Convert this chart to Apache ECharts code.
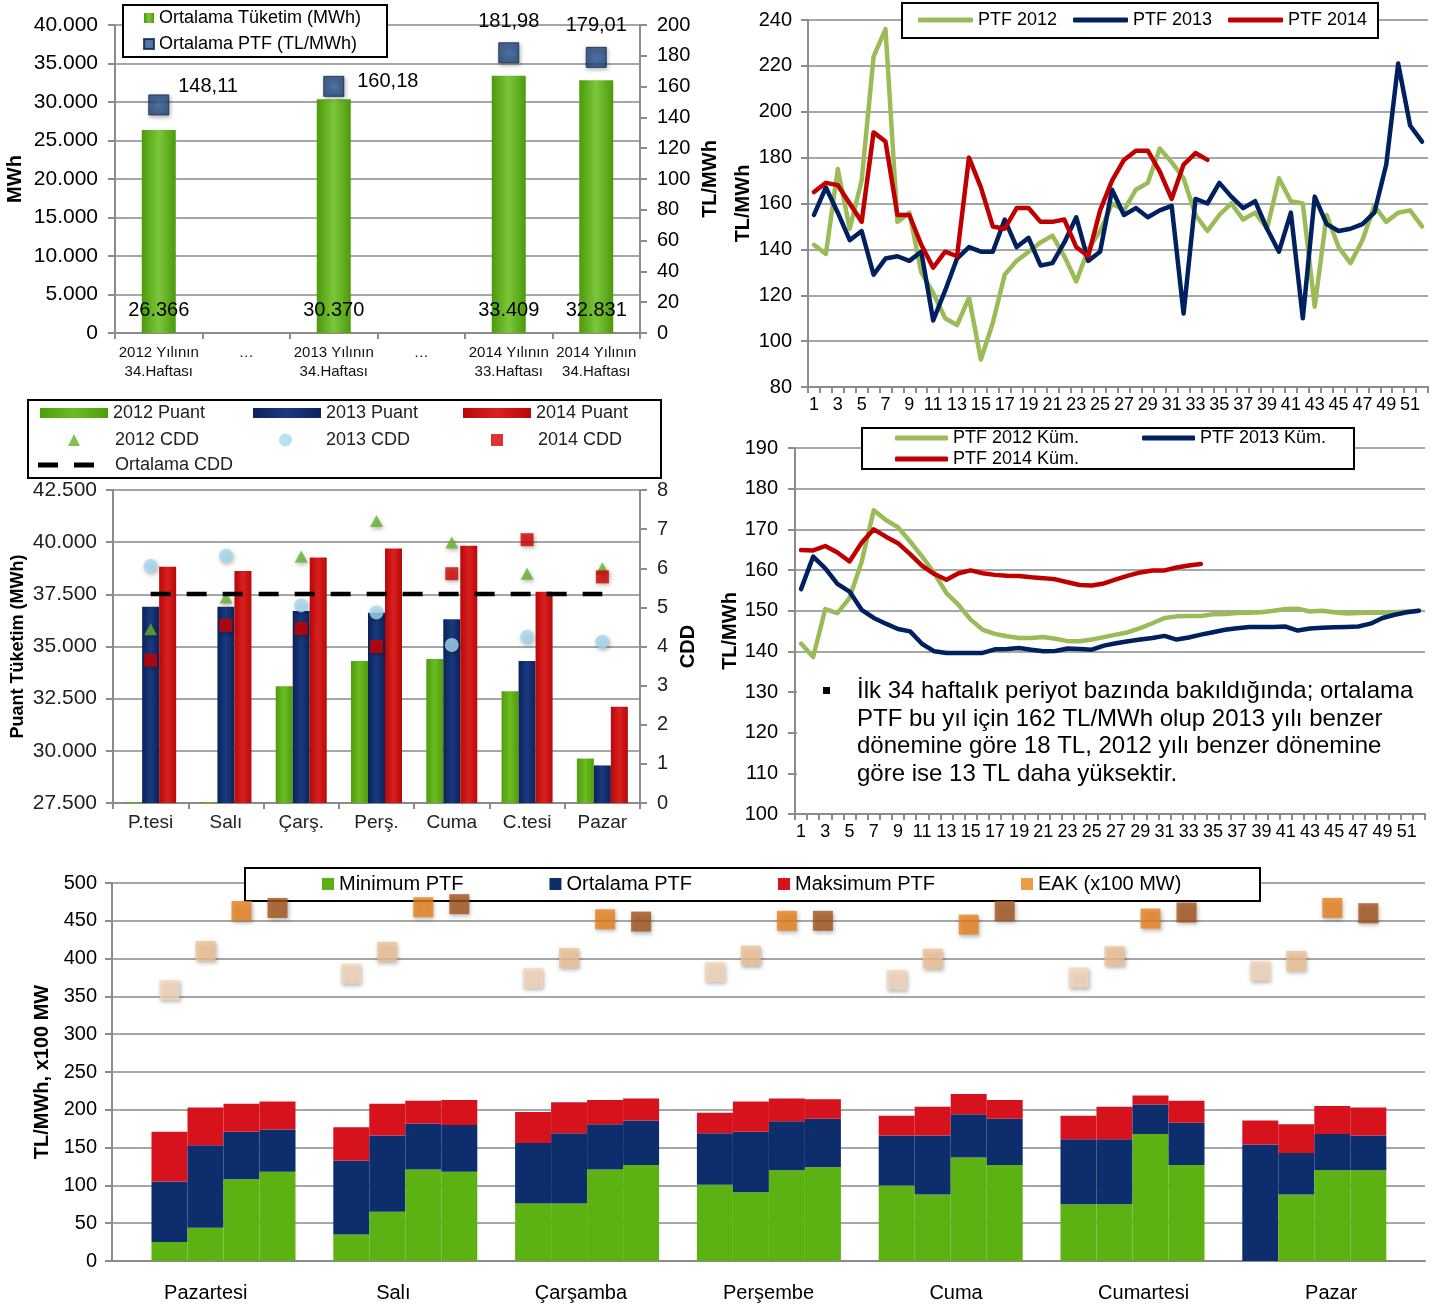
<!DOCTYPE html>
<html>
<head>
<meta charset="utf-8">
<script src="https://cdn.jsdelivr.net/npm/echarts@6/dist/echarts.min.js"></script>
<style>
html,body{margin:0;padding:0;background:#ffffff;}
#chart{width:1436px;height:1308px;}
</style>
</head>
<body>
<div id="chart"></div>
<script>
// ---------------- Panel 1: weekly averages ----------------
const p1Categories = ['2012 Yılının\n34.Haftası', '…', '2013 Yılının\n34.Haftası', '…', '2014 Yılının\n33.Haftası', '2014 Yılının\n34.Haftası'];
const p1Consumption = [26366, null, 30370, null, 33409, 32831];
const p1Ptf = [148.11, null, 160.18, null, 181.98, 179.01];

// ---------------- Panels 2 & 4: weeks ----------------
const weeks = ['1','2','3','4','5','6','7','8','9','10','11','12','13','14','15','16','17','18','19','20','21','22','23','24','25','26','27','28','29','30','31','32','33','34','35','36','37','38','39','40','41','42','43','44','45','46','47','48','49','50','51','52'];
const ptf2012 = [142,138,175,149,170,224,236,152,156,130,121,110,107,119,92,108,129,135,139,143,146,137,126,140,148,160,157,166,169,184,178,171,155,148,155,160,153,156,149,171,161,160,115,155,141,134,144,159,152,156,157,150];
const ptf2013 = [155,167,156,144,148,129,136,137,135,139,109,122,136,141,139,139,153,141,145,133,134,143,154,135,139,166,155,158,154,157,159,112,162,160,169,163,158,161,149,139,156,110,163,151,148,149,151,156,177,221,194,187];
const ptf2014 = [165,169,168,160,152,191,187,155,155,142,132,139,137,180,167,150,149,158,158,152,152,153,141,137,157,170,179,183,183,174,162,177,182,179];

const kum2012 = [141.9,138.6,150.4,149.4,153.1,162.0,174.7,172.3,170.5,167.0,163.3,159.2,154.3,151.4,147.8,145.3,144.3,143.7,143.3,143.3,143.5,143.1,142.5,142.5,142.9,143.5,144.1,144.7,145.7,146.9,148.2,148.6,148.7,148.7,149.1,149.2,149.4,149.5,149.6,150.0,150.4,150.5,149.8,150.0,149.6,149.3,149.4,149.5,149.5,149.6,149.8,150.0];
const kum2013 = [155.3,163.3,160.4,156.6,154.7,150.2,148.2,146.8,145.5,144.9,141.8,140.0,139.6,139.6,139.6,139.6,140.5,140.6,140.8,140.4,140.0,140.1,140.7,140.6,140.4,141.4,142.0,142.5,142.9,143.3,143.8,142.9,143.4,144.1,144.7,145.3,145.7,146.0,146.0,146.0,146.1,145.1,145.6,145.8,145.9,146.0,146.1,146.8,148.2,149.0,149.6,150.0];
const kum2014 = [164.9,164.8,165.9,164.3,162.1,166.7,170.0,168.2,166.6,163.9,161.0,159.0,157.6,159.2,159.9,159.2,158.8,158.6,158.5,158.2,158.0,157.7,157.0,156.3,156.2,156.7,157.7,158.6,159.4,159.9,159.9,160.6,161.1,161.5];

// ---------------- Panel 3: peak consumption & CDD ----------------
const days3 = ['P.tesi','Salı','Çarş.','Perş.','Cuma','C.tesi','Pazar'];
const puant2012 = [27550, 27550, 33100, 34300, 34400, 32850, 29630];
const puant2013 = [36900, 36900, 36700, 36620, 36300, 34300, 29300];
const puant2014 = [38820, 38620, 39260, 39700, 39830, 37620, 32110];
const cdd2012 = [4.44, 5.25, 6.30, 7.21, 6.66, 5.86, 6.00];
const cdd2013 = [6.06, 6.32, 5.05, 4.87, 4.04, 4.25, 4.12];
const cdd2014 = [3.65, 4.54, 4.46, 4.00, 5.86, 6.73, 5.78];
const avgCdd = [5.34, 5.34, 5.34, 5.34, 5.34, 5.34, 5.34];

// ---------------- Panel 5: daily PTF min/avg/max and EAK ----------------
const days5 = ['Pazartesi','Salı','Çarşamba','Perşembe','Cuma','Cumartesi','Pazar'];
const minPtf1 = [25, 35, 76, 101, 100, 75, 0];
const avgPtf1 = [105, 133, 156, 169, 166, 161, 154];
const maxPtf1 = [171, 177, 197, 196, 192, 192, 186];
const minPtf2 = [44, 65, 76, 91, 88, 75, 88];
const avgPtf2 = [153, 166, 169, 171, 166, 161, 143];
const maxPtf2 = [203, 208, 210, 211, 204, 204, 181];
const minPtf3 = [108, 121, 121, 120, 137, 168, 120];
const avgPtf3 = [171, 182, 181, 185, 194, 207, 168];
const maxPtf3 = [208, 212, 213, 215, 221, 219, 205];
const minPtf4 = [118, 118, 127, 124, 127, 127, 120];
const avgPtf4 = [174, 180, 186, 188, 188, 183, 166];
const maxPtf4 = [211, 213, 215, 214, 213, 212, 203];
const eak1 = [358, 380, 374, 382, 372, 375, 384];
const eak2 = [410, 409, 401, 404, 400, 403, 397];
const eak3 = [463, 468, 452, 450, 445, 453, 467];
const eak4 = [467, 472, 449, 450, 463, 461, 460];

// ---------------- styling ----------------
const FONT = 'Liberation Sans, Arial, sans-serif';
const AXIS = '#8C8C8C';
const GRIDC = '#A6A6A6';
const thousands = v => (v === null || v === undefined) ? '' : String(v).replace(/\B(?=(\d{3})+(?!\d))/g, '.');
const dec2 = v => v.toFixed(2).replace('.', ',');
const hgrad = (a, b) => ({type:'linear', x:0, y:0, x2:1, y2:0, colorStops:[{offset:0,color:a},{offset:0.5,color:b},{offset:1,color:a}]});

const C_GREEN_L = '#9BBB59', C_NAVY_L = '#002060', C_RED_L = '#C00000';
const axisLine = {show:true, lineStyle:{color:AXIS, width:2}};
const tickY = {show:true, length:7, lineStyle:{color:AXIS, width:2}};
const tickX = {show:true, length:6, interval:0, lineStyle:{color:AXIS, width:2}};
const split = {show:true, lineStyle:{color:GRIDC, width:2}};
const nameStyle = {fontSize:20, fontWeight:'bold', color:'#000', fontFamily:FONT};
const shadow = {shadowBlur:4, shadowColor:'rgba(0,0,0,0.35)', shadowOffsetX:1, shadowOffsetY:2};

const BAR5 = 36;
const eakColors = ['#F4D6BC', '#EFC296', '#E8821E', '#A3541B'];
const minSets = [minPtf1, minPtf2, minPtf3, minPtf4];
const avgSets = [avgPtf1, avgPtf2, avgPtf3, avgPtf4];
const maxSets = [maxPtf1, maxPtf2, maxPtf3, maxPtf4];
const eakSets = [eak1, eak2, eak3, eak4];

const ptfLabel = {show:true, fontSize:20, color:'#000', opacity:1, textBorderWidth:0, fontFamily:FONT};
const p1LabelPos = [
  {position:'right', distance:9, offset:[0,-18]},
  {},
  {position:'right', distance:13, offset:[0,-5]},
  {},
  {position:'top', distance:11},
  {position:'top', distance:11}
];

const series = [];
// Panel 1
series.push({type:'bar', name:'Ortalama Tüketim (MWh)', xAxisIndex:0, yAxisIndex:0, data:p1Consumption, barWidth:34,
  itemStyle:{color:hgrad('#4C9A0C', '#7CC63A')},
  label:{show:true, position:'insideBottom', distance:13, formatter:p => thousands(p.value), fontSize:20, color:'#000', fontFamily:FONT}});
series.push({type:'scatter', name:'Ortalama PTF (TL/MWh)', xAxisIndex:0, yAxisIndex:1, symbol:'rect', symbolSize:20,
  data:p1Ptf.map((v, i) => ({value:v, label:Object.assign({}, ptfLabel, p1LabelPos[i])})),
  itemStyle:Object.assign({color:{type:'radial', x:0.5, y:0.5, r:0.7, colorStops:[{offset:0,color:'#2F5F9E'},{offset:1,color:'#173A6A'}]}, borderColor:'#0F2747', borderWidth:1}, shadow),
  label:Object.assign({formatter:p => dec2(p.value)}, ptfLabel)});
// Panel 2
[['PTF 2012', ptf2012, C_GREEN_L], ['PTF 2013', ptf2013, C_NAVY_L], ['PTF 2014', ptf2014, C_RED_L]].forEach(s => {
  series.push({type:'line', name:s[0], xAxisIndex:1, yAxisIndex:2, data:s[1], symbol:'none', itemStyle:{color:s[2]},
    lineStyle:{color:s[2], width:4.5, join:'round', cap:'round'}});
});
// Panel 3 bars
[['2012 Puant', puant2012, '#4E9E0A', '#6CBB24'], ['2013 Puant', puant2013, '#0B225A', '#1A3A80'], ['2014 Puant', puant2014, '#B80808', '#DA2020']].forEach(s => {
  series.push({type:'bar', name:s[0], xAxisIndex:2, yAxisIndex:3, data:s[1], barWidth:17, barGap:'0%', itemStyle:{color:hgrad(s[2], s[3])}});
});
// Panel 3 CDD
series.push({type:'scatter', name:'2012 CDD', xAxisIndex:2, yAxisIndex:4, data:cdd2012, symbol:'triangle', symbolSize:[13,12], itemStyle:Object.assign({color:'#63B22C'}, shadow)});
series.push({type:'scatter', name:'2013 CDD', xAxisIndex:2, yAxisIndex:4, data:cdd2013, symbol:'circle', symbolSize:14, itemStyle:Object.assign({color:'#A3D9F0'}, shadow)});
series.push({type:'scatter', name:'2014 CDD', xAxisIndex:2, yAxisIndex:4, data:cdd2014, symbol:'rect', symbolSize:13, itemStyle:Object.assign({color:'#D00000'}, shadow)});
series.push({type:'line', name:'Ortalama CDD', xAxisIndex:2, yAxisIndex:4, data:avgCdd, symbol:'none', itemStyle:{color:'#000'},
  lineStyle:{color:'#000', width:4.5, type:[20,16]}, z:4});
// Panel 4
[['PTF 2012 Küm.', kum2012, C_GREEN_L], ['PTF 2013 Küm.', kum2013, C_NAVY_L], ['PTF 2014 Küm.', kum2014, C_RED_L]].forEach(s => {
  series.push({type:'line', name:s[0], xAxisIndex:3, yAxisIndex:5, data:s[1], symbol:'none', itemStyle:{color:s[2]},
    lineStyle:{color:s[2], width:4.5, join:'round', cap:'round'}});
});
// Panel 5 stacked bars (4 columns per day) on the overlay grid
for (let p = 0; p < 4; p++) {
  const mn = minSets[p], av = avgSets[p], mx = maxSets[p];
  series.push({type:'bar', name:'Minimum PTF', xAxisIndex:5, yAxisIndex:7, stack:'s' + p, barWidth:BAR5, barGap:'0%', data:mn, itemStyle:{color:'#5CB212'}});
  series.push({type:'bar', name:'Ortalama PTF', xAxisIndex:5, yAxisIndex:7, stack:'s' + p, barWidth:BAR5, barGap:'0%', data:av.map((v, i) => v - mn[i]), itemStyle:{color:'#0E2D6C'}});
  series.push({type:'bar', name:'Maksimum PTF', xAxisIndex:5, yAxisIndex:7, stack:'s' + p, barWidth:BAR5, barGap:'0%', data:mx.map((v, i) => v - av[i]), itemStyle:{color:'#D6121C'}});
}
for (let p = 0; p < 4; p++) {
  series.push({type:'scatter', name:'EAK (x100 MW)', xAxisIndex:5, yAxisIndex:7, data:eakSets[p], symbol:'rect', symbolSize:20,
    symbolOffset:[(p - 1.5) * BAR5, 0], itemStyle:Object.assign({color:eakColors[p]}, shadow), z:5});
}

const legBase = {selectedMode:false, padding:0, textStyle:{fontSize:18, lineHeight:20, color:'#000', fontFamily:FONT}};
const L = o => Object.assign({}, legBase, o, {textStyle:Object.assign({}, legBase.textStyle, o.textStyle || {})});
const leg3Text = {fontSize:18, color:'#222'};

const option = {
  animation:false,
  backgroundColor:'#ffffff',
  textStyle:{fontFamily:FONT},
  grid:[
    {left:115, top:25, width:525, height:308},
    {left:808, top:20, width:620, height:367},
    {left:113, top:490, width:527, height:313},
    {left:795, top:448, width:630, height:366},
    {left:112, top:883, width:1313, height:378},
    {left:132.6, top:883, width:1272.6, height:378}
  ],
  xAxis:[
    {gridIndex:0, type:'category', data:p1Categories, axisLine, axisTick:tickX, axisLabel:{interval:0, fontSize:15, lineHeight:19, margin:10, color:'#111'}},
    {gridIndex:1, type:'category', data:weeks, axisLine, axisTick:tickX, axisLabel:{interval:1, fontSize:18, margin:9, color:'#000'}},
    {gridIndex:2, type:'category', data:days3, axisLine, axisTick:tickX, axisLabel:{interval:0, fontSize:19, margin:10, color:'#222'}},
    {gridIndex:3, type:'category', data:weeks, axisLine, axisTick:tickX, axisLabel:{interval:1, fontSize:18, margin:9, color:'#000'}},
    {gridIndex:4, type:'category', data:days5, axisLine, axisTick:{show:false}, axisLabel:{interval:0, fontSize:20, margin:22, color:'#000'}},
    {gridIndex:5, type:'category', data:days5, show:false}
  ],
  yAxis:[
    {gridIndex:0, type:'value', min:0, max:40000, interval:5000, axisLine, axisTick:tickY, splitLine:split,
      axisLabel:{formatter:thousands, fontSize:21, color:'#000', margin:17},
      name:'MWh', nameLocation:'middle', nameRotate:90, nameGap:90, nameTextStyle:nameStyle},
    {gridIndex:0, type:'value', position:'right', min:0, max:200, interval:20, axisLine, axisTick:tickY, splitLine:{show:false},
      axisLabel:{fontSize:20, color:'#000', margin:17},
      name:'TL/MWh', nameLocation:'middle', nameRotate:90, nameGap:60, nameTextStyle:nameStyle},
    {gridIndex:1, type:'value', min:80, max:240, interval:20, axisLine, axisTick:tickY, splitLine:split,
      axisLabel:{fontSize:20, color:'#000', margin:16},
      name:'TL/MWh', nameLocation:'middle', nameRotate:90, nameGap:55, nameTextStyle:nameStyle},
    {gridIndex:2, type:'value', min:27500, max:42500, interval:2500, axisLine, axisTick:tickY, splitLine:split,
      axisLabel:{formatter:thousands, fontSize:21, color:'#222', margin:16},
      name:'Puant Tüketim (MWh)', nameLocation:'middle', nameRotate:90, nameGap:86, nameTextStyle:Object.assign({}, nameStyle, {fontSize:18})},
    {gridIndex:2, type:'value', position:'right', min:0, max:8, interval:1, axisLine, axisTick:tickY, splitLine:{show:false},
      axisLabel:{fontSize:20, color:'#222', margin:17},
      name:'CDD', nameLocation:'middle', nameRotate:90, nameGap:38, nameTextStyle:nameStyle},
    {gridIndex:3, type:'value', min:100, max:190, interval:10, axisLine, axisTick:tickY, splitLine:split,
      axisLabel:{fontSize:20, color:'#000', margin:17},
      name:'TL/MWh', nameLocation:'middle', nameRotate:90, nameGap:55, nameTextStyle:nameStyle},
    {gridIndex:4, type:'value', min:0, max:500, interval:50, axisLine, axisTick:tickY, splitLine:split,
      axisLabel:{fontSize:20, color:'#000', margin:15},
      name:'TL/MWh, x100 MW', nameLocation:'middle', nameRotate:90, nameGap:60, nameTextStyle:nameStyle},
    {gridIndex:5, type:'value', min:0, max:500, interval:50, show:false}
  ],
  legend:[
    L({left:143, top:8, orient:'vertical', icon:'rect', itemWidth:10, itemHeight:10, itemGap:6, data:['Ortalama Tüketim (MWh)', 'Ortalama PTF (TL/MWh)']}),
    L({left:918, top:10, icon:'roundRect', itemWidth:55, itemHeight:5, itemGap:16, data:['PTF 2012', 'PTF 2013', 'PTF 2014']}),
    L({left:40, top:403, icon:'rect', itemWidth:68, itemHeight:10, data:['2012 Puant'], textStyle:leg3Text}),
    L({left:253, top:403, icon:'rect', itemWidth:68, itemHeight:10, data:['2013 Puant'], textStyle:leg3Text}),
    L({left:463, top:403, icon:'rect', itemWidth:68, itemHeight:10, data:['2014 Puant'], textStyle:leg3Text}),
    L({left:68, top:430, itemWidth:12, itemHeight:12, data:['2012 CDD'], textStyle:Object.assign({padding:[0,0,0,30]}, leg3Text)}),
    L({left:279, top:430, itemWidth:13, itemHeight:13, data:['2013 CDD'], textStyle:Object.assign({padding:[0,0,0,29]}, leg3Text)}),
    L({left:491, top:430, itemWidth:12, itemHeight:12, data:['2014 CDD'], textStyle:Object.assign({padding:[0,0,0,30]}, leg3Text)}),
    L({left:38, top:455, itemWidth:56, itemHeight:5, data:[{name:'Ortalama CDD', icon:'path://M0,0H20V5H0Z M36,0H56V5H36Z'}], textStyle:Object.assign({padding:[0,0,0,16]}, leg3Text)}),
    L({left:895, top:428, icon:'roundRect', itemWidth:53, itemHeight:5, itemGap:63, data:['PTF 2012 Küm.', 'PTF 2013 Küm.']}),
    L({left:895, top:449, icon:'roundRect', itemWidth:53, itemHeight:5, data:['PTF 2014 Küm.']}),
    L({left:322, top:874, icon:'rect', itemWidth:12, itemHeight:12, itemGap:86,
      data:['Minimum PTF', 'Ortalama PTF', 'Maksimum PTF', {name:'EAK (x100 MW)', itemStyle:{color:'#E8821E'}}], textStyle:{fontSize:20}})
  ],
  graphic:[
    {type:'rect', z:3, shape:{x:123, y:5, width:264, height:52}, style:{fill:'#fff', stroke:'#000', lineWidth:2}},
    {type:'rect', z:3, shape:{x:902, y:3, width:476, height:35}, style:{fill:'#fff', stroke:'#000', lineWidth:2}},
    {type:'rect', z:3, shape:{x:28, y:400, width:633, height:78}, style:{fill:'#fff', stroke:'#000', lineWidth:2}},
    {type:'rect', z:3, shape:{x:862, y:428, width:492, height:41}, style:{fill:'#fff', stroke:'#000', lineWidth:2}},
    {type:'rect', z:3, shape:{x:245, y:868, width:1015, height:33}, style:{fill:'#fff', stroke:'#000', lineWidth:2}},
    {type:'rect', z:3, shape:{x:797, y:668, width:635, height:132}, style:{fill:'#fff'}},
    {type:'rect', z:5, shape:{x:823, y:687, width:7, height:7}, style:{fill:'#000'}},
    {type:'text', z:5, style:{x:857, y:678, text:'İlk 34 haftalık periyot bazında bakıldığında; ortalama\nPTF bu yıl için 162 TL/MWh olup 2013 yılı benzer\ndönemine göre 18 TL, 2012 yılı benzer dönemine\ngöre ise 13 TL daha yüksektir.',
      fontSize:24, fontFamily:FONT, lineHeight:27.5, fill:'#000', verticalAlign:'top'}}
  ],
  series
};

const chart = echarts.init(document.getElementById('chart'), null, {renderer:'canvas'});
chart.setOption(option);
</script>
</body>
</html>
